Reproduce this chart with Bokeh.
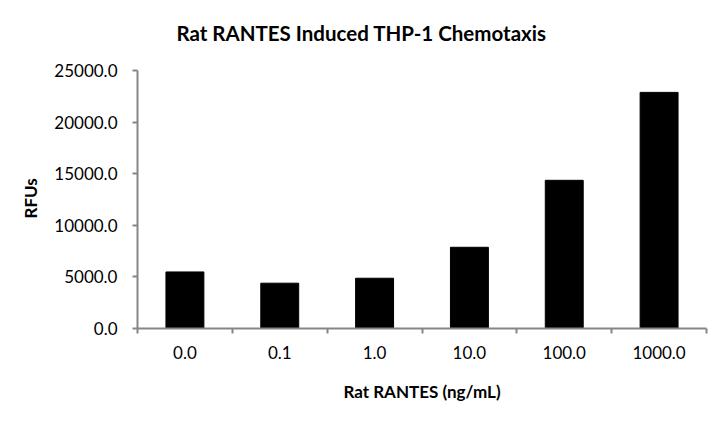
from bokeh.plotting import figure
from bokeh.models import FixedTicker, NumeralTickFormatter, Range1d, Label, Title
from bokeh.embed import file_html
from bokeh.resources import INLINE

# data
doses = ["0.0", "0.1", "1.0", "10.0", "100.0", "1000.0"]
rfus = [5480, 4390, 4870, 7870, 14360, 22880]
yticks = [0, 5000, 10000, 15000, 20000, 25000]
ymax = 25000

xpos = [i + 0.5 for i in range(len(doses))]

# the frame reaches above the value axis so the title can sit inside it
top_border, axis_px, head_px = 10, 258, 60
y_end = ymax * (axis_px + head_px) / axis_px

p = figure(width=712, height=417, output_backend="svg", toolbar_location=None,
           x_range=Range1d(0, len(doses)), y_range=Range1d(0, y_end),
           min_border_left=137, min_border_right=6, min_border_top=top_border,
           min_border_bottom=89)
p.outline_line_color = None
p.xgrid.visible = False
p.ygrid.visible = False

p.vbar(x=xpos, top=rfus, width=0.4, color="black")

axis_grey = "#868686"

# x axis: labels at bar centres, tick marks between categories
p.xaxis.ticker = FixedTicker(ticks=xpos, minor_ticks=list(range(len(doses) + 1)))
p.xaxis.major_label_overrides = {x: d for x, d in zip(xpos, doses)}
p.xaxis.major_tick_out = 0
p.xaxis.major_tick_in = 0
p.xaxis.minor_tick_out = 5
p.xaxis.minor_tick_in = 0
p.xaxis.minor_tick_line_color = axis_grey
p.xaxis.major_label_standoff = 12
p.xaxis.axis_label = "Rat RANTES (ng/mL)"
p.xaxis.axis_label_standoff = 19

p.yaxis.ticker = FixedTicker(ticks=yticks)
p.yaxis.bounds = (0, ymax)
p.yaxis.formatter = NumeralTickFormatter(format="0.0")
p.yaxis.major_tick_out = 5
p.yaxis.major_tick_in = 0
p.yaxis.minor_tick_line_color = None
p.yaxis.major_label_standoff = 15

for ax in (p.xaxis, p.yaxis):
    ax.axis_line_color = axis_grey
    ax.axis_line_width = 2
    ax.major_tick_line_color = axis_grey
    ax.major_tick_line_width = 2
    ax.minor_tick_line_width = 2
    ax.major_label_text_font = "Lato"
    ax.major_label_text_font_size = "17px"
    ax.major_label_text_color = "black"
    ax.axis_label_text_font = "Lato"
    ax.axis_label_text_font_size = "17px"
    ax.axis_label_text_font_style = "bold"
    ax.axis_label_text_color = "black"

# value-axis label, centred on the axis rather than on the taller frame
ylab = Title(text="RFUs", align="left", offset=110, text_font="Lato",
             text_font_style="bold", text_font_size="17px", text_color="black",
             standoff=22)
p.add_layout(ylab, "left")

title = Label(x=224, y=axis_px + 38, x_units="screen", y_units="screen",
              text="Rat RANTES Induced THP-1 Chemotaxis", text_align="center",
              text_baseline="middle", text_font="Lato", text_font_style="bold",
              text_font_size="20.5px", text_color="black")
p.add_layout(title)

open("out.html", "w").write(file_html(p, INLINE))
